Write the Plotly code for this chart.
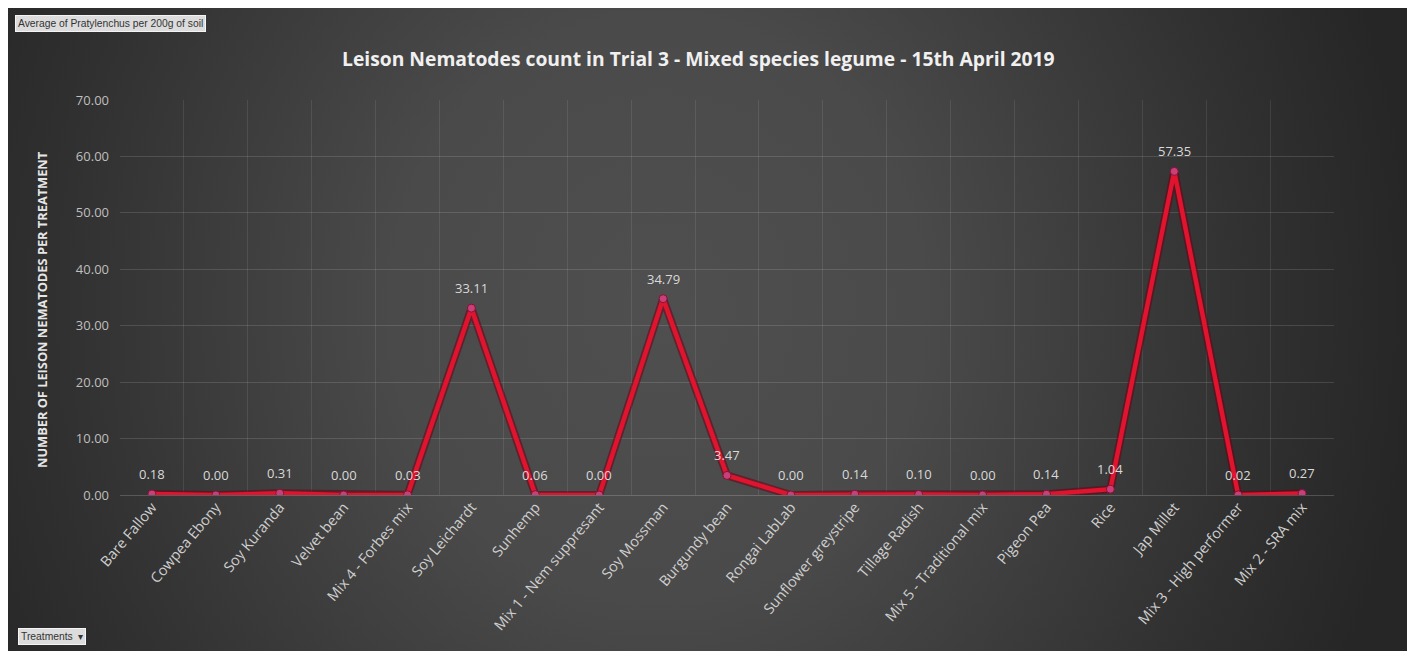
import base64
import plotly.graph_objects as go

# Treatments and mean Pratylenchus counts
treatments = [
    "Bare Fallow", "Cowpea Ebony", "Soy Kuranda", "Velvet bean", "Mix 4 - Forbes mix",
    "Soy Leichardt", "Sunhemp", "Mix 1 - Nem suppresant", "Soy Mossman", "Burgundy bean",
    "Rongai LabLab", "Sunflower greystripe", "Tillage Radish", "Mix 5 - Traditional mix",
    "Pigeon Pea", "Rice", "Jap Millet", "Mix 3 - High performer", "Mix 2 - SRA mix",
]
nematodes = [
    0.18, 0.00, 0.31, 0.00, 0.03,
    33.11, 0.06, 0.00, 34.79, 3.47,
    0.00, 0.14, 0.10, 0.00,
    0.14, 1.04, 57.35, 0.02, 0.27,
]
y_ticks = [0, 10, 20, 30, 40, 50, 60, 70]

W, H = 1407, 651
L, R, T, B = 120, 73, 100, 156
PW, PH = W - L - R, H - T - B


def px(x):
    return (x - L) / PW


def py(y):
    return (H - B - y) / PH


# dark radial backdrop of the chart area
svg = (
    '<svg xmlns="http://www.w3.org/2000/svg" width="1400" height="643" '
    'viewBox="0 0 1400 643" preserveAspectRatio="none">'
    '<defs><radialGradient id="g" gradientUnits="userSpaceOnUse" cx="650" cy="300" r="760" '
    'gradientTransform="translate(650,300) scale(1,1.1) translate(-650,-300)">'
    '<stop offset="0" stop-color="#4f4f4f"/>'
    '<stop offset="0.35" stop-color="#4a4a4a"/>'
    '<stop offset="0.8" stop-color="#303030"/>'
    '<stop offset="1" stop-color="#262626"/>'
    '</radialGradient></defs>'
    '<rect x="0" y="0" width="1400" height="643" fill="url(#g)"/></svg>'
)
bg_src = "data:image/svg+xml;base64," + base64.b64encode(svg.encode()).decode()

fig = go.Figure()
# soft dark edge under the series line
fig.add_trace(go.Scatter(
    x=treatments, y=nematodes, mode="lines",
    line=dict(color="rgba(110,0,20,0.55)", width=8),
    hoverinfo="skip",
))
fig.add_trace(go.Scatter(
    x=treatments, y=nematodes,
    mode="lines+markers",
    line=dict(color="#e0142e", width=4.5),
    marker=dict(size=8, color="#c8407a", line=dict(color="#8a1032", width=1)),
    hoverinfo="x+y",
))

# value labels above each point
value_labels = [
    dict(
        x=t, y=v, xref="x", yref="y", text=f"{v:.2f}", showarrow=False,
        yshift=20, font=dict(family="Open Sans", size=13, color="#d9d9d9"),
    )
    for t, v in zip(treatments, nematodes)
]

fig.update_layout(
    width=W, height=H,
    margin=dict(l=L, r=R, t=T, b=B),
    paper_bgcolor="white",
    plot_bgcolor="rgba(0,0,0,0)",
    showlegend=False,
    font=dict(family="Open Sans", color="#d0d0d0"),
    images=[dict(
        source=bg_src, xref="paper", yref="paper",
        x=px(8), y=py(8), sizex=(W - 8) / PW, sizey=(H - 8) / PH,
        xanchor="left", yanchor="top", sizing="stretch", layer="below",
    )],
    xaxis=dict(
        type="category",
        range=[-0.5, len(treatments) - 0.5],
        tickson="boundaries",
        showgrid=True, gridcolor="rgba(255,255,255,0.09)", gridwidth=1,
        ticks="", tickangle=-50,
        tickfont=dict(family="Open Sans", size=14.5, color="#cfcfcf"),
        showline=False, zeroline=False,
    ),
    yaxis=dict(
        range=[0, 70],
        tickvals=y_ticks,
        tickformat=".2f",
        showgrid=True, gridcolor="rgba(255,255,255,0.13)", gridwidth=1,
        zeroline=True, zerolinecolor="rgba(255,255,255,0.18)", zerolinewidth=1,
        ticks="", ticklabelstandoff=10,
        tickfont=dict(family="Open Sans", size=13, color="#bfbfbf"),
    ),
    annotations=value_labels + [
        dict(
            text="<b>Leison Nematodes count in Trial 3 - Mixed species legume - 15th April 2019</b>",
            xref="paper", yref="paper", x=px(698), y=py(58),
            xanchor="center", yanchor="middle", showarrow=False,
            font=dict(family="Open Sans", size=19.3, color="#f0f0f0"),
        ),
        dict(
            text="<b>NUMBER OF LEISON NEMATODES PER TREATMENT</b>",
            xref="paper", yref="paper", x=px(42), y=py(310),
            xanchor="center", yanchor="middle", textangle=-90, showarrow=False,
            font=dict(family="Open Sans", size=12.8, color="#e6e6e6"),
        ),
        dict(
            text="Average of Pratylenchus per 200g of soil",
            xref="paper", yref="paper", x=px(15), y=py(15),
            xanchor="left", yanchor="top", showarrow=False,
            bgcolor="#dcdcdc", bordercolor="#f4f4f4", borderwidth=1, borderpad=2,
            font=dict(family="Liberation Sans", size=10.3, color="#333333"),
        ),
        dict(
            text="Treatments  ▾",
            xref="paper", yref="paper", x=px(18), y=py(628),
            xanchor="left", yanchor="top", showarrow=False,
            bgcolor="#dcdcdc", bordercolor="#f4f4f4", borderwidth=1, borderpad=2,
            font=dict(family="Liberation Sans", size=10.3, color="#333333"),
        ),
    ],
)

fig.write_html("out.html")
